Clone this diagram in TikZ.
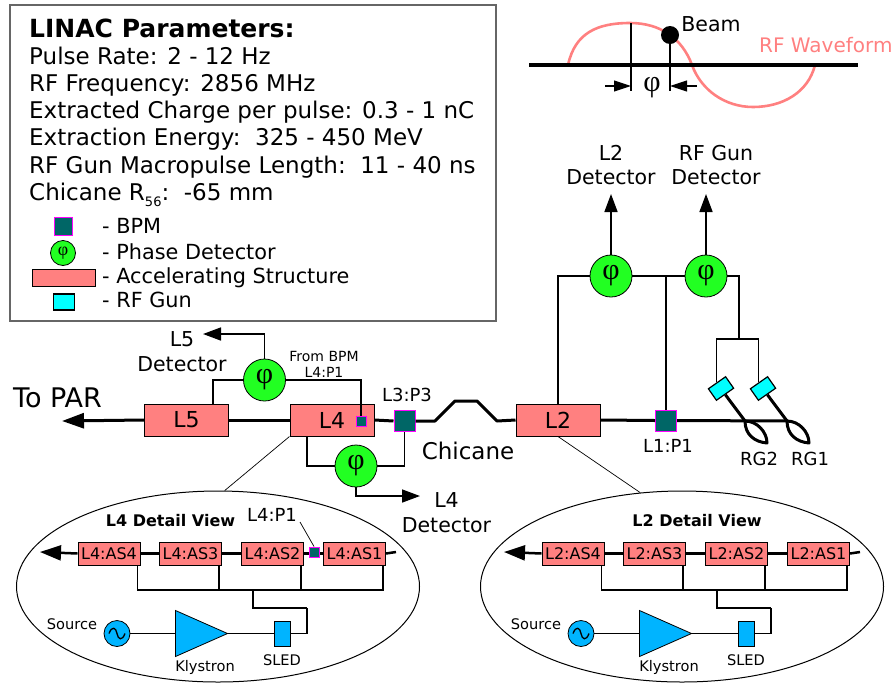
\documentclass[tikz,border=0pt]{standalone}
\usepackage{fontspec}
\setmainfont{DejaVu Sans}
\newfontfamily\phifont{Liberation Serif}
\usetikzlibrary{arrows.meta,calc,shapes.geometric}
\definecolor{aspink}{HTML}{FF8080}
\definecolor{bpmteal}{HTML}{006666}
\definecolor{bpmedge}{HTML}{FF00FF}
\definecolor{phasegreen}{HTML}{22FF22}
\definecolor{rfblue}{HTML}{00B4FF}
\definecolor{guncyan}{HTML}{00FFFF}

\begin{document}
\begin{tikzpicture}[
      x=1pt,
      y=-1pt,
      every node/.style = {
        inner sep=0pt
      },
      asbox/.style = {
        rectangle,
        draw=black,
        line width=1pt,
        fill=aspink,
        minimum width=84pt,
        minimum height=32pt,
        font=\fontsize{22}{24}\selectfont
      },
      smallas/.style = {
        asbox,
        minimum width=62pt,
        minimum height=23pt,
        font=\fontsize{16}{18}\selectfont
      },
      bpm/.style = {
        rectangle,
        draw=bpmedge,
        line width=1pt,
        fill=bpmteal,
        minimum size=21pt
      },
      smallbpm/.style = {
        bpm,
        minimum size=10pt
      },
      phase/.style = {
        circle,
        draw=black,
        line width=0.8pt,
        fill=phasegreen,
        minimum size=42pt,
        font=\phifont\fontsize{30}{30}\selectfont
      },
      gun/.style = {
        rectangle,
        draw=black,
        line width=1.2pt,
        fill=guncyan,
        minimum width=21pt,
        minimum height=14pt,
        rotate=35
      },
      rfpart/.style = {
        draw=black,
        line width=0.8pt,
        fill=rfblue
      },
      beam/.style = {
        line width=3pt,
        line join=round
      },
      thinbeam/.style = {
        line width=2.5pt
      },
      wire/.style = {
        line width=1.1pt
      },
      leader/.style = {
        line width=0.7pt
      },
      arc/.style = {
        line width=1.6pt,
        -{Triangle[length=18pt,width=13pt]}
      },
      biglabel/.style = {
        align=center,
        font=\fontsize{20.5}{24.5}\selectfont
      },
      midlabel/.style = {
        align=center,
        font=\fontsize{18}{20}\selectfont
      },
      smalllabel/.style = {
        align=center,
        font=\fontsize{14.6}{17}\selectfont
      }
    ]
    \useasboundingbox (0,0) rectangle (893,683);

    \node[draw=black!60,line width=1.2pt,minimum width=486pt,minimum height=316pt] (parambox) at (253,163) {};
    \node[anchor=base west,font=\bfseries\fontsize{25}{28}\selectfont] (paramtitle) at (29,37) {LINAC Parameters:};
    \foreach \ypos/\linetext in {
      64/{Pulse Rate: 2 - 12 Hz},
      91/{RF Frequency: 2856 MHz},
      118/{Extracted Charge per pulse: 0.3 - 1 nC},
      145/{Extraction Energy:\ \ 325 - 450 MeV},
      173/{RF Gun Macropulse Length:\ \ 11 - 40 ns},
      200/{Chicane R\raisebox{-6pt}{\fontsize{13}{13}\selectfont 56}:\ \ -65 mm}} {
      \node[anchor=base west,font=\fontsize{23}{26}\selectfont] (param\ypos) at (29,\ypos) {\linetext};
    }

    \node[bpm,minimum size=18pt] (keybpm) at (63,226) {};
    \node[phase,minimum size=25pt,font=\phifont\fontsize{18}{18}\selectfont] (keyphase) at (63,253) {φ};
    \node[asbox,minimum width=63pt,minimum height=17pt] (keyas) at (63.5,277.5) {};
    \node[rectangle,draw=black,line width=1.2pt,fill=guncyan,minimum width=21pt,minimum height=16pt] (keygun) at (64,302) {};
    \foreach \ypos/\linetext in {233/BPM,259/Phase Detector,283/Accelerating Structure,307/RF Gun} {
      \node[anchor=base west,font=\fontsize{20.8}{24}\selectfont] (key\ypos) at (102,\ypos) {- \linetext};
    }

    \node[asbox] (l5) at (186.5,420) {L5};
    \node[asbox] (l4) at (332,420) {L4};
    \node[asbox] (l2) at (558,420) {L2};
    \node[smallbpm] (l4p1) at (361,421) {};
    \node[bpm] (l3p3) at (404.5,421) {};
    \node[bpm] (l1p1) at (666,420.5) {};
    \node[phase] (l5phase) at (264.5,380) {φ};
    \node[phase] (l4phase) at (356,466) {φ};
    \node[phase] (l2phase) at (611,276) {φ};
    \node[phase] (gunphase) at (706,276) {φ};
    \node[gun] (rg2gun) at (721,388.5) {};
    \node[gun] (rg1gun) at (763,388.5) {};

    \coordinate (partip) at (62,421);
    \coordinate (beamend) at (788,421);
    \draw[beam,-{Triangle[length=22pt,width=15pt]}] (l5.west) -- (partip);
    \draw[beam] (l4.west) -- (l5.east);
    \draw[beam] (l3p3.west) -- (l4.east);
    \draw[beam] (l3p3.east) -- (435,421) -- (455,401) -- (477,401) -- (497,421) -- (l2.west);
    \draw[beam] (l2.east) -- (l1p1.west);
    \draw[beam] (l1p1.east) -- (beamend);

    \foreach \loopname/\xshiftval in {rg2/0,rg1/42} {
      \coordinate (\loopname start) at (745+\xshiftval,421);
      \draw[beam] (\loopname gun.south) -- (\loopname start);
      \draw[beam] (\loopname start) .. controls (745+\xshiftval,435) and (755+\xshiftval,442) .. (767+\xshiftval,443)
        .. controls (767+\xshiftval,432) and (757+\xshiftval,421) .. cycle;
    }

    \coordinate (l5top) at (264.5,334);
    \coordinate (l5tip) at (203,334);
    \coordinate (l4tip) at (420,496);
    \draw[wire] (l5phase.west) -| ([xshift=26.5pt]l5.north);
    \draw[wire] (l5phase.east) -| (l4p1.north);
    \draw[arc] (l5phase.north) -- (l5top) -- (l5tip);
    \draw[wire] ([xshift=-25pt]l4.south) |- (l4phase.west);
    \draw[wire] (l4phase.east) -| (l3p3.south);
    \draw[arc] (l4phase.south) |- (l4tip);
    \draw[wire] (l2phase.west) -| (l2.north);
    \draw[wire] (l2phase.east) -- (gunphase.west);
    \draw[wire] (l1p1.north) -- (l1p1.north |- l2phase.east);
    \coordinate (rgsplit) at (739,339);
    \draw[wire] (gunphase.east) -| (rgsplit);
    \draw[wire] (rg2gun.north) |- (rgsplit);
    \draw[wire] (rg1gun.north) |- (rgsplit);
    \coordinate (l2tip) at (611,194);
    \coordinate (guntip) at (706,194);
    \draw[arc] (l2phase.north) -- (l2tip);
    \draw[arc] (gunphase.north) -- (guntip);

    \node[font=\fontsize{27}{30}\selectfont] (parlabel) at (57.5,398) {To PAR};
    \node[biglabel] (l5label) at (182,351.5) {L5\\Detector};
    \node[biglabel] (l4label) at (446.5,512.5) {L4\\Detector};
    \node[biglabel] (l2label) at (611,165) {L2\\Detector};
    \node[biglabel] (gunlabel) at (716,165) {RF Gun\\Detector};
    \node[biglabel,font=\fontsize{23}{26}\selectfont] (chicanelabel) at (468,451) {Chicane};
    \node[font=\fontsize{14}{16}\selectfont,align=center] (frombpm) at (324,364) {From BPM\\L4:P1};
    \node[midlabel] (l3label) at (407,394.5) {L3:P3};
    \node[midlabel] (l1label) at (668,446) {L1:P1};
    \node[midlabel] (rg2label) at (759,459) {RG2};
    \node[midlabel] (rg1label) at (810,459) {RG1};

    \draw[aspink,line width=2.6pt] (568,65) .. controls (575,33) and (597,23) .. (630,23)
      .. controls (660,23) and (682,38) .. (692,65)
      .. controls (701,90) and (725,107) .. (753,107)
      .. controls (782,107) and (808,93) .. (815,65);
    \coordinate (axisleft) at (529,65);
    \coordinate (axisright) at (858,65);
    \draw[line width=4pt] (axisleft) -- (axisright);
    \node[circle,fill=black,minimum size=18pt] (bunch) at (670,35) {};
    \coordinate (peakfoot) at (631,91);
    \coordinate (peaktop) at (631,23);
    \coordinate (bunchfoot) at (670,91);
    \draw[wire] (peaktop) -- (peakfoot);
    \draw[wire] (bunch) -- (bunchfoot);
    \coordinate (phistart) at (605,86);
    \coordinate (phiend) at (697,86);
    \draw[wire,-{Triangle[length=17pt,width=11pt]}] (phistart) -- (peakfoot |- phistart);
    \draw[wire,-{Triangle[length=17pt,width=11pt]}] (phiend) -- (bunchfoot |- phiend);
    \node[font=\phifont\fontsize{30}{30}\selectfont] (philabel) at (652,88) {φ};
    \node[biglabel] (beamlabel) at (711,24) {Beam};
    \node[anchor=west,text=aspink,font=\fontsize{20}{24}\selectfont] (rflabel) at (759,45) {RF Waveform};

    \foreach \dname/\xoff/\titlex in {L4/0/170.5,L2/464/233} {
      \begin{scope}[xshift=\xoff pt]
        \node[ellipse,draw=black,line width=1pt,minimum width=403pt,minimum height=191pt] (\dname view) at (218,586.5) {};
        \node[font=\bfseries\fontsize{16}{18}\selectfont] (\dname title) at (\titlex,521) {\dname\ Detail View};
        \foreach \asnum/\asx in {4/109,3/190.5,2/272.5,1/354.5} {
          \node[smallas] (\dname as\asnum) at (\asx,553.5) {\dname:AS\asnum};
        }
        \coordinate (\dname tip) at (40,552);
        \coordinate (\dname tail) at (396,552);
        \draw[thinbeam,-{Triangle[length=21pt,width=15pt]}] (\dname as4.west) -- (\dname tip);
        \draw[thinbeam] (\dname as3.west) -- (\dname as4.east);
        \draw[thinbeam] (\dname as2.west) -- (\dname as3.east);
        \draw[thinbeam] (\dname as1.west) -- (\dname as2.east);
        \draw[thinbeam] (\dname as1.east) -- (\dname tail);
        \coordinate (\dname bus) at (253,590);
        \draw[wire] ([xshift=-3pt]\dname as4.south east) |- (\dname bus);
        \draw[wire] ([xshift=-3pt]\dname as3.south east) |- (\dname bus);
        \draw[wire] ([xshift=-3pt]\dname as2.south east) |- (\dname bus);
        \draw[wire] ([xshift=-3pt]\dname as1.south east) |- (\dname bus);
        \node[circle,rfpart,minimum size=26pt] (\dname source) at (117,633.5) {};
        \node[isosceles triangle,rfpart,isosceles triangle apex angle=83,minimum height=52pt,minimum width=46pt,isosceles triangle stretches] (\dname klystron) at (190.5,633.5) {};
        \node[rectangle,rfpart,minimum width=16pt,minimum height=25pt] (\dname sled) at (282,633.5) {};
        \draw[wire] (\dname source.east) -- (\dname klystron.west);
        \draw[wire] (\dname klystron.east) -- (\dname sled.west);
        \coordinate (\dname turn) at (307,608);
        \draw[wire] (\dname bus) |- (\dname turn);
        \draw[wire] (\dname turn) |- (\dname sled.east);
        \draw[line width=1.3pt] (109,633.5) .. controls (112,625.5) and (116,627.5) .. (117,633.5)
          .. controls (118,639.5) and (122,641.5) .. (125,633.5);
        \node[smalllabel] (\dname sourcelabel) at (72,624) {Source};
        \node[smalllabel] (\dname klystronlabel) at (205,667) {Klystron};
        \node[smalllabel] (\dname sledlabel) at (282,660) {SLED};
      \end{scope}
    }
    \node[smallbpm] (detailbpm) at (314,552) {};
    \node[midlabel] (detaillabel) at (272,515) {L4:P1};
    \draw[leader] (300,522) -- (detailbpm.north);

    \draw[leader] (l4.south west) -- (L4view.86);
    \draw[leader] (l2.south) -- (L2view.114);
  \end{tikzpicture}
\end{document}
